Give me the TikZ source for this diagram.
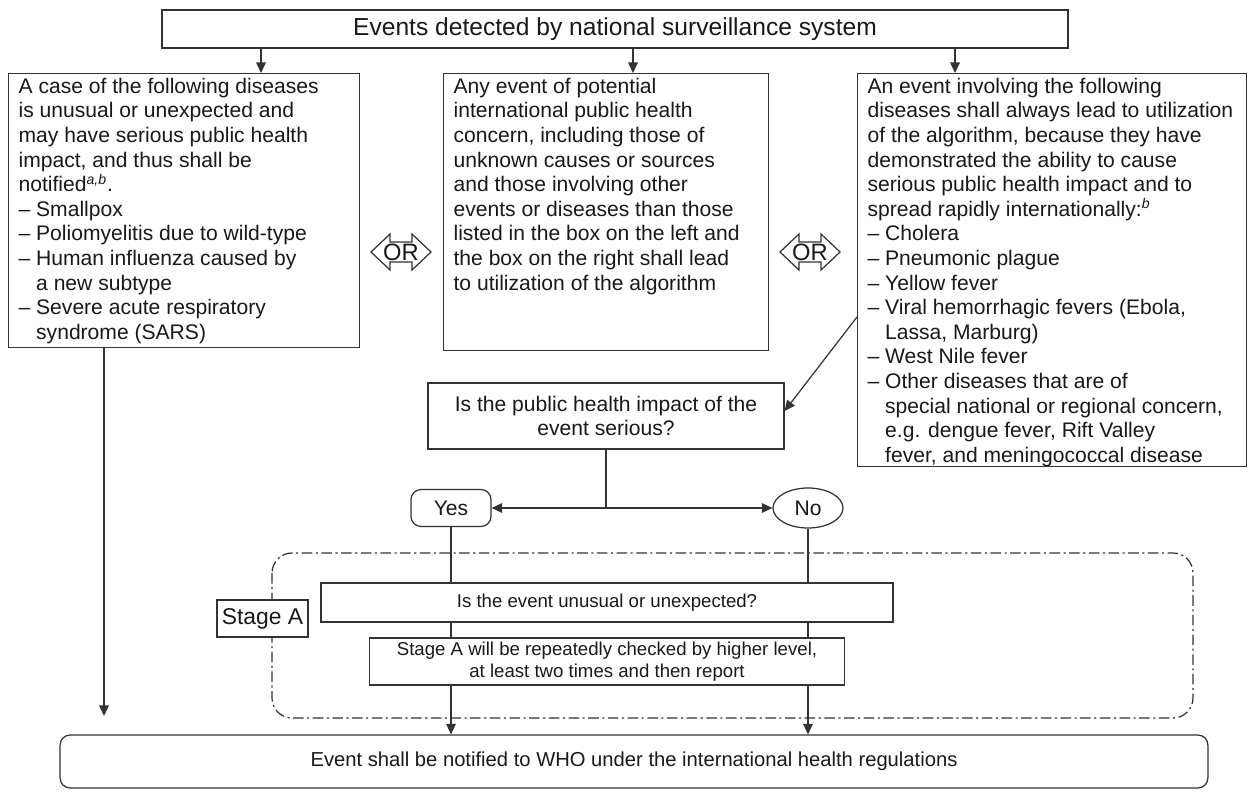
\documentclass[tikz,border=0pt]{standalone}
\usepackage{fontspec}
\setmainfont{Liberation Sans}
\usepackage{graphicx}
\usetikzlibrary{arrows.meta,shapes.geometric,positioning}

\newcommand{\boxtext}[3]{\parbox[t][#2][t]{#1}{\raggedright\fontsize{12}{14}\selectfont #3}}
\newcommand{\dashitem}{--\ }
\newcommand{\contitem}{\phantom{--\ }}
% outline of the OR double arrow, drawn round a named node
\newcommand{\orshape}[1]{\draw[orline, shift={(#1)}] (-30,0) -- (-11,-18) -- (-11,-10) -- (11,-10)
  -- (11,-18) -- (30,0) -- (11,18) -- (11,10) -- (-11,10) -- (-11,18) -- cycle;}

\tikzset{
  box/.style={draw=black!80, line width=0.7pt, fill=white, inner sep=0pt,
    font=\fontsize{12}{14}\selectfont, text=black!90},
  flowarr/.style={draw=black!80, line width=0.7pt, -{Triangle[length=6pt,width=5.5pt]}},
  flowline/.style={draw=black!80, line width=0.7pt},
  orline/.style={draw=black!80, line width=0.7pt},
  ortext/.style={inner sep=0pt, font=\fontsize{13.5}{15}\selectfont, text=black!90},
  stageframe/.style={draw=black!80, line width=0.7pt, dash pattern=on 6pt off 2pt on 1.2pt off 2pt,
    rounded corners=0.4cm},
}

\begin{document}
\begin{tikzpicture}[x=0.02cm, y=-0.02cm]
  \useasboundingbox (0,0) rectangle (1254,791);

  %%% top
  \node[box, minimum width=18.12cm, minimum height=0.76cm, font=\fontsize{14}{16}\selectfont]
    (top) at (615,29) {Events detected by national surveillance system};

  %%% three columns
  \node[box, anchor=north west, minimum width=7.02cm, minimum height=5.48cm] (lbox) at (8,73)
    {\boxtext{6.62cm}{5.3cm}{A case of the following diseases\\
      is unusual or unexpected and\\
      may have serious public health\\
      impact, and thus shall be\\
      notified\textsuperscript{\itshape a,b}.\\
      \dashitem Smallpox\\
      \dashitem Poliomyelitis due to wild-type\\
      \dashitem Human influenza caused by\\
      \contitem a new subtype\\
      \dashitem Severe acute respiratory\\
      \contitem syndrome (SARS)}};
  \node[box, anchor=north west, minimum width=6.5cm, minimum height=5.54cm] (mbox) at (443,73)
    {\boxtext{6.1cm}{5.36cm}{Any event of potential\\
      international public health\\
      concern, including those of\\
      unknown causes or sources\\
      and those involving other\\
      events or diseases than those\\
      listed in the box on the left and\\
      the box on the right shall lead\\
      to utilization of the algorithm}};
  \node[box, anchor=north west, minimum width=7.78cm, minimum height=7.86cm] (rbox) at (857,73)
    {\boxtext{7.38cm}{7.68cm}{An event involving the following\\
      diseases shall always lead to utilization\\
      of the algorithm, because they have\\
      demonstrated the ability to cause\\
      serious public health impact and to\\
      spread rapidly internationally:\textsuperscript{\itshape b}\\
      \dashitem Cholera\\
      \dashitem Pneumonic plague\\
      \dashitem Yellow fever\\
      \dashitem Viral hemorrhagic fevers (Ebola,\\
      \contitem Lassa, Marburg)\\
      \dashitem West Nile fever\\
      \dashitem Other diseases that are of\\
      \contitem special national or regional concern,\\
      \contitem e.g. dengue fever, Rift Valley\\
      \contitem fever, and meningococcal disease}};

  \node[ortext] (orL) at (401,252) {OR};
  \node[ortext] (orR) at (810,252) {OR};
  \orshape{orL}
  \orshape{orR}

  %%% decision
  \node[box, minimum width=7.12cm, minimum height=1.32cm, align=center] (pub) at (606,416)
    {Is the public health impact of the\\event serious?};
  \node[box, rounded corners=0.2cm, minimum width=1.6cm, minimum height=0.74cm] (yes) at (451,508) {Yes};
  \node[box, ellipse, minimum width=1.4cm, minimum height=0.8cm] (no) at (808,508) {No};

  %%% stage A
  \draw[stageframe] (272,553) rectangle (1193,718);
  \node[box, minimum width=11.44cm, minimum height=0.78cm, font=\fontsize{10.6}{12.5}\selectfont]
    (ev) at (607,602.5) {Is the event unusual or unexpected?};
  \node[box, minimum width=1.82cm, minimum height=0.74cm, font=\fontsize{13}{15}\selectfont]
    (stA) at (262.5,618.5) {Stage A};
  \node[box, minimum width=9.5cm, minimum height=0.94cm, align=center, font=\fontsize{10.6}{12.5}\selectfont]
    (will) at (607,661.5)
    {Stage A will be repeatedly checked by higher level,\\at least two times and then report};

  %%% bottom
  \node[box, rounded corners=0.2cm, minimum width=22.96cm, minimum height=1.06cm,
    font=\fontsize{11.5}{14}\selectfont] (bot) at (634,761.5)
    {Event shall be notified to WHO under the international health regulations};

  %%% connectors
  \draw[flowarr] (261,0 |- top.south) -- (261,0 |- lbox.north);
  \draw[flowarr] (633,0 |- top.south) -- (633,0 |- mbox.north);
  \draw[flowarr] (955,0 |- top.south) -- (955,0 |- rbox.north);

  \draw[flowarr] (rbox.west |- 0,317) -- (pub.east |- 0,411);
  \draw[flowline] (pub.south) -- (pub.south |- yes.east);
  \draw[flowarr] (pub.south |- yes.east) -- (yes.east);
  \draw[flowarr] (pub.south |- no.west) -- (no.west);

  \draw[flowline] (yes.south) -- (yes.south |- ev.north);
  \draw[flowline] (yes.south |- ev.south) -- (yes.south |- will.north);
  \draw[flowarr] (yes.south |- will.south) -- (yes.south |- bot.north);
  \draw[flowline] (no.south) -- (no.south |- ev.north);
  \draw[flowline] (no.south |- ev.south) -- (no.south |- will.north);
  \draw[flowarr] (no.south |- will.south) -- (no.south |- bot.north);

  \draw[flowarr, shorten >=15\pgflinewidth] (104,0 |- lbox.south) -- (104,0 |- bot.north);
\end{tikzpicture}
\end{document}
